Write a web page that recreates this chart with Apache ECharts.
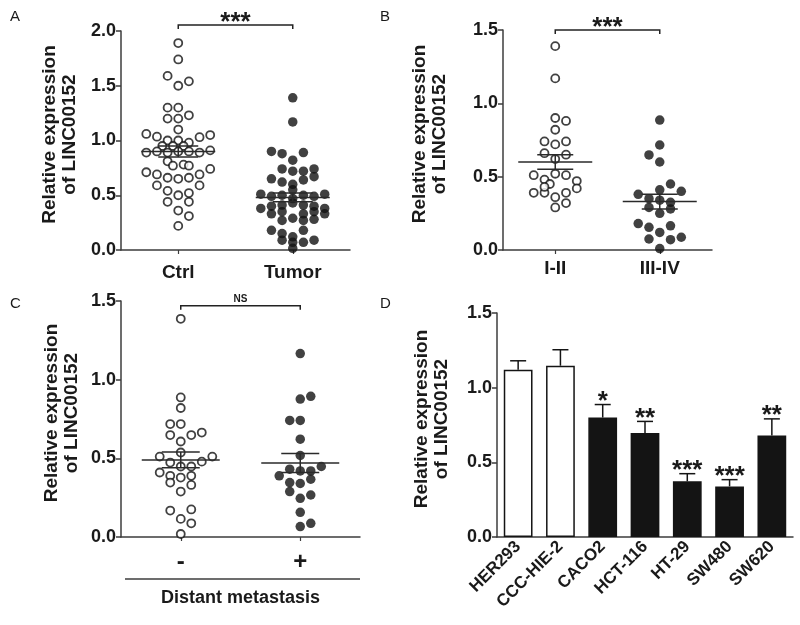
<!DOCTYPE html>
<html><head><meta charset="utf-8">
<script src="https://cdn.jsdelivr.net/npm/echarts@6/dist/echarts.min.js"></script>
<style>html,body{margin:0;padding:0;background:#fff}#c{width:800px;height:625px}</style>
</head><body><div id="c"></div>
<script>
// ---------- Panel A : Ctrl vs Tumor ----------
const catsA = ['Ctrl', 'Tumor'];
const ctrlVals = [1.89,1.74,1.59,1.50,1.54,1.30,1.30,1.20,1.20,1.23,1.10,1.06,1.035,1.00,1.00,0.98,1.03,1.05,0.95,0.95,0.95,0.89,0.90,0.89,0.90,0.90,0.89,0.91,0.81,0.77,0.78,0.77,0.71,0.69,0.66,0.65,0.66,0.69,0.74,0.59,0.59,0.54,0.50,0.52,0.44,0.44,0.36,0.31,0.22];
const ctrlCols = [0,0,-1,0,1,-1,0,-1,0,1,0,-3,-2,-1,0,1,2,3,-1.5,-0.5,0.5,-3,-2,-1,0,1,2,3,-1,-0.5,0.5,1,-3,-2,-1,0,1,2,3,-2,2,-1,0,1,-1,1,0,1,0];
const tumorVals = [1.39,1.17,0.90,0.88,0.89,0.82,0.74,0.72,0.72,0.74,0.67,0.65,0.62,0.60,0.64,0.55,0.51,0.49,0.50,0.47,0.50,0.49,0.51,0.38,0.40,0.41,0.43,0.41,0.40,0.38,0.33,0.35,0.33,0.35,0.33,0.27,0.29,0.27,0.28,0.18,0.15,0.12,0.18,0.09,0.07,0.07,0.09,0.015];
const tumorCols = [0,0,-2,-1,1,0,-1,0,1,2,2,-2,-1,0,1,0,-3,-2,-1,0,1,2,3,-3,-2,-1,0,1,2,3,-2,-1,1,2,3,-1,0,1,2,-2,-1,0,1,-1,0,1,2,0];
const meanA = [0.90, 0.48];
const semA = [0.05, 0.04];
const sigA = ['***'];

// ---------- Panel B : stage ----------
const catsB = ['I-II', 'III-IV'];
const earlyVals = [1.39,1.17,0.90,0.88,0.82,0.74,0.72,0.74,0.66,0.62,0.65,0.51,0.48,0.52,0.51,0.47,0.45,0.42,0.39,0.39,0.36,0.39,0.43,0.32,0.29];
const earlyCols = [0,0,0,1,0,-1,0,1,-1,0,1,-2,-1,0,1,2,-0.5,2,-2,-1,0,1,-1,1,0];
const lateVals = [0.886,0.716,0.648,0.60,0.41,0.45,0.40,0.38,0.35,0.34,0.325,0.29,0.25,0.28,0.18,0.155,0.165,0.12,0.075,0.07,0.087,0.01];
const lateCols = [0,0,-1,0,0,1,2,-2,-1,0,1,-1,0,1,-2,-1,1,0,-1,1,2,0];
const meanB = [0.60, 0.33];
const semB = [0.05, 0.05];
const sigB = ['***'];

// ---------- Panel C : distant metastasis ----------
const catsC = ['-', '+'];
const negVals = [1.387,0.887,0.82,0.718,0.718,0.648,0.648,0.664,0.607,0.537,0.511,0.511,0.473,0.448,0.448,0.479,0.41,0.389,0.378,0.389,0.346,0.331,0.289,0.168,0.175,0.115,0.087,0.019];
const negCols = [0,0,0,-1,0,-1,1,2,0,0,-2,3,-1,0,1,2,-2,-1,0,1,-1,1,0,-1,1,0,1,0];
const posVals = [1.166,0.877,0.894,0.741,0.741,0.622,0.518,0.431,0.42,0.42,0.448,0.389,0.346,0.34,0.367,0.289,0.267,0.246,0.157,0.066,0.087];
const posCols = [0,0,1,-1,0,0,0,-1,0,1,2,-2,-1,0,1,-1,1,0,0,0,1];
const meanC = [0.49, 0.47];
const semC = [0.05, 0.06];
const sigC = ['NS'];
const xTitleC = 'Distant metastasis';

// ---------- Panel D : cell lines ----------
const cellLines = ['HER293','CCC-HIE-2','CACO2','HCT-116','HT-29','SW480','SW620'];
const exprD = [1.12,1.147,0.80,0.696,0.373,0.339,0.679];
const errD = [0.06,0.107,0.087,0.078,0.051,0.045,0.112];
const starsD = ['','','*','**','***','***','**'];
const normalCount = 2;

const yTitle = 'Relative expression\nof LINC00152';

// ---------- helpers ----------
const FONT = 'Liberation Sans, Arial, sans-serif';
const INK = '#1a1a1a';
const AX = '#3c3c3c';
function swarm(vals, cols, center, slot) {
  return vals.map((v, i) => [center + cols[i] * slot, v]);
}
function yAxis(grid, max, gap) {
  return {
    type: 'value', gridIndex: grid, min: 0, max: max, interval: 0.5,
    name: yTitle, nameLocation: 'middle', nameGap: gap,
    nameTextStyle: {fontFamily: FONT, fontWeight: 'bold', fontSize: 19, color: INK, lineHeight: 20, padding: [0, 0, 0, 12]},
    axisLine: {show: true, lineStyle: {color: AX, width: 1.5}},
    axisTick: {show: true, length: 5, lineStyle: {color: AX, width: 1.5}},
    axisLabel: {fontFamily: FONT, fontWeight: 'bold', fontSize: 18, color: INK, margin: 5,
      formatter: v => v.toFixed(1)},
    splitLine: {show: false}
  };
}
function xValAxis(grid, cats, margin, fs) {
  return {
    type: 'value', gridIndex: grid, min: 0.5, max: 2.5, position: 'bottom',
    axisLine: {show: true, onZero: false, lineStyle: {color: AX, width: 1.5}},
    axisTick: {show: true, length: 4, customValues: [1, 2], lineStyle: {color: AX, width: 1.2}},
    axisLabel: {customValues: [1, 2], fontFamily: FONT, fontWeight: 'bold', fontSize: fs, color: INK,
      margin: margin, formatter: v => cats[Math.round(v) - 1]},
    splitLine: {show: false}
  };
}
function openDots(data, x, y) {
  return {type: 'scatter', xAxisIndex: x, yAxisIndex: y, data: data, symbol: 'circle', symbolSize: 8,
    itemStyle: {color: '#fff', borderColor: '#111', borderWidth: 1.8}, z: 3};
}
function fullDots(data, x, y) {
  return {type: 'scatter', xAxisIndex: x, yAxisIndex: y, data: data, symbol: 'circle', symbolSize: 9.5,
    itemStyle: {color: '#111'}, z: 3};
}
function meanSem(means, sems, x, y, half, halfSem) {
  return {
    type: 'custom', xAxisIndex: x, yAxisIndex: y, z: 5, clip: false,
    data: means.map((m, i) => [i + 1, m, sems[i]]),
    renderItem: (params, api) => {
      const cx = api.value(0), m = api.value(1), s = api.value(2);
      const c = api.coord([cx, m]), u = api.coord([cx, m + s]), l = api.coord([cx, m - s]);
      const st = {stroke: '#2a2a2a', lineWidth: 1.5};
      return {type: 'group', children: [
        {type: 'line', shape: {x1: c[0] - half, y1: c[1], x2: c[0] + half, y2: c[1]}, style: st},
        {type: 'line', shape: {x1: c[0] - halfSem, y1: u[1], x2: c[0] + halfSem, y2: u[1]}, style: st},
        {type: 'line', shape: {x1: c[0] - halfSem, y1: l[1], x2: c[0] + halfSem, y2: l[1]}, style: st},
        {type: 'line', shape: {x1: c[0], y1: u[1], x2: c[0], y2: l[1]}, style: st}
      ]};
    }
  };
}
function bracket(label, level, x, y, fs, dy) {
  return {
    type: 'custom', xAxisIndex: x, yAxisIndex: y, z: 6, clip: false,
    data: [[1, 2, level]],
    renderItem: (params, api) => {
      const a = api.coord([api.value(0), api.value(2)]);
      const b = api.coord([api.value(1), api.value(2)]);
      return {type: 'group', children: [
        {type: 'polyline', shape: {points: [[a[0], a[1] + 4], [a[0], a[1]], [b[0], b[1]], [b[0], b[1] + 4]]},
          style: {stroke: '#222', lineWidth: 1.5, fill: null}},
        {type: 'text', x: (a[0] + b[0]) / 2, y: a[1] - dy,
          style: {text: label, fontFamily: FONT, fontWeight: 'bold', fontSize: fs, fill: INK,
            align: 'center', verticalAlign: 'middle'}}
      ]};
    }
  };
}

const chart = echarts.init(document.getElementById('c'), null, {renderer: 'canvas'});
const option = {
  animation: false,
  backgroundColor: '#fff',
  grid: [
    {left: 121, top: 31, width: 229, height: 219},
    {left: 503, top: 30, width: 209, height: 220},
    {left: 121, top: 301, width: 239, height: 236},
    {left: 497, top: 313, width: 296, height: 224}
  ],
  xAxis: [
    xValAxis(0, catsA, 13, 19),
    xValAxis(1, catsB, 9, 19),
    Object.assign(xValAxis(2, catsC, 13, 24), {
      name: xTitleC, nameLocation: 'middle', nameGap: 52,
      nameTextStyle: {fontFamily: FONT, fontWeight: 'bold', fontSize: 18, color: INK}
    }),
    {
      type: 'category', gridIndex: 3, data: cellLines, boundaryGap: true,
      axisLine: {show: true, lineStyle: {color: AX, width: 1.5}},
      axisTick: {show: false},
      axisLabel: {interval: 0, rotate: 45, fontFamily: FONT, fontWeight: 'bold', fontSize: 17, color: INK, margin: 7}
    }
  ],
  yAxis: [
    yAxis(0, 2.0, 41),
    yAxis(1, 1.5, 53),
    yAxis(2, 1.5, 39),
    yAxis(3, 1.5, 45)
  ],
  graphic: [
    {type: 'text', left: 10, top: 9, style: {text: 'A', fontFamily: FONT, fontSize: 15, fill: INK}},
    {type: 'text', left: 380, top: 9, style: {text: 'B', fontFamily: FONT, fontSize: 15, fill: INK}},
    {type: 'text', left: 10, top: 296, style: {text: 'C', fontFamily: FONT, fontSize: 15, fill: INK}},
    {type: 'text', left: 380, top: 296, style: {text: 'D', fontFamily: FONT, fontSize: 15, fill: INK}},
    {type: 'line', shape: {x1: 125, y1: 579, x2: 360, y2: 579}, style: {stroke: AX, lineWidth: 1.3}}
  ],
  series: [
    openDots(swarm(ctrlVals, ctrlCols, 1, 0.093), 0, 0),
    fullDots(swarm(tumorVals, tumorCols, 2, 0.093), 0, 0),
    meanSem(meanA, semA, 0, 0, 37, 20),
    bracket(sigA[0], 2.055, 0, 0, 26, 2),

    openDots(swarm(earlyVals, earlyCols, 1, 0.103), 1, 1),
    fullDots(swarm(lateVals, lateCols, 2, 0.103), 1, 1),
    meanSem(meanB, semB, 1, 1, 37, 18),
    bracket(sigB[0], 1.5, 1, 1, 26, 2),

    openDots(swarm(negVals, negCols, 1, 0.088), 2, 2),
    fullDots(swarm(posVals, posCols, 2, 0.088), 2, 2),
    meanSem(meanC, semC, 2, 2, 39, 19),
    bracket(sigC[0], 1.47, 2, 2, 10, 6),

    {
      type: 'bar', xAxisIndex: 3, yAxisIndex: 3, data: exprD, barWidth: '68%',
      itemStyle: {color: p => p.dataIndex < normalCount ? '#fff' : '#141414', borderColor: '#141414', borderWidth: 1.5}
    },
    {
      type: 'custom', xAxisIndex: 3, yAxisIndex: 3, z: 5, clip: false,
      data: exprD.map((v, i) => [i, v, errD[i]]),
      renderItem: (params, api) => {
        const i = api.value(0), v = api.value(1), e = api.value(2);
        const b = api.coord([i, v]), t = api.coord([i, v + e]);
        return {type: 'group', children: [
          {type: 'line', shape: {x1: b[0], y1: b[1], x2: t[0], y2: t[1]}, style: {stroke: '#141414', lineWidth: 1.5}},
          {type: 'line', shape: {x1: t[0] - 8, y1: t[1], x2: t[0] + 8, y2: t[1]}, style: {stroke: '#141414', lineWidth: 1.5}},
          {type: 'text', x: t[0], y: t[1] - 3, style: {text: starsD[i], fontFamily: FONT, fontWeight: 'bold', fontSize: 26,
            fill: INK, align: 'center', verticalAlign: 'middle'}}
        ]};
      }
    }
  ]
};
chart.setOption(option);
</script>
</body></html>
